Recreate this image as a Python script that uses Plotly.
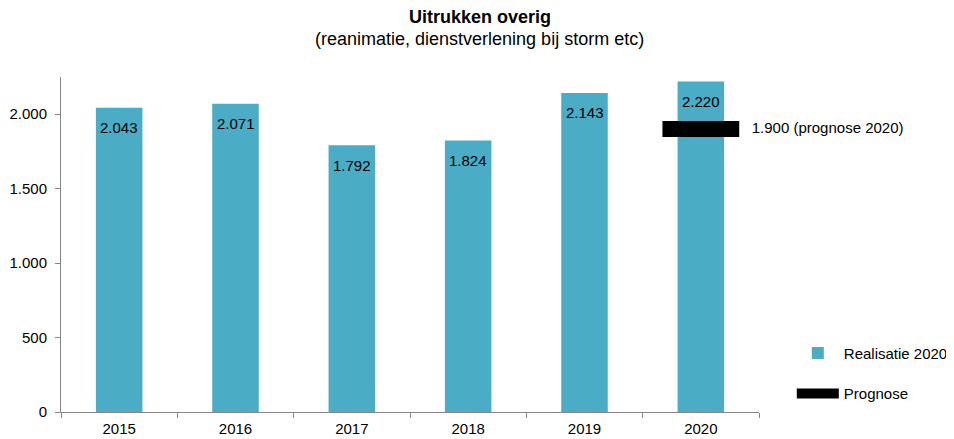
import plotly.graph_objects as go

years = ["2015", "2016", "2017", "2018", "2019", "2020"]
realisatie = [2043, 2071, 1792, 1824, 2143, 2220]
prognose_value = 1900
prognose_label = "1.900 (prognose 2020)"
title_main = "Uitrukken overig"
title_sub = "(reanimatie, dienstverlening bij storm etc)"

xpos = list(range(len(years)))
font = "Liberation Sans, Arial, sans-serif"
FS = 15


def fmt(v):
    return f"{v:,}".replace(",", ".")


fig = go.Figure()
fig.add_trace(go.Bar(
    x=xpos, y=realisatie, name="Realisatie 2020",
    marker=dict(color="#4BACC6", line=dict(width=0)),
    width=0.4,
    legendgroup="a",
))
px = xpos[-1]
fig.add_trace(go.Scatter(
    x=[px - 0.33, px + 0.33], y=[prognose_value, prognose_value],
    mode="lines+text", name="Prognose",
    line=dict(color="#000000", width=16),
    text=["", "   " + prognose_label], textposition="middle right",
    textfont=dict(family=font, size=FS, color="#000000"),
    legendgroup="b", cliponaxis=False,
))

PH = 335.0
annotations = [
    dict(text="<b>" + title_main + "</b>", xref="paper", yref="paper",
         x=0.600, y=1 + 60 / PH, xanchor="center", yanchor="middle",
         showarrow=False, font=dict(family=font, size=18, color="#000000")),
    dict(text=title_sub, xref="paper", yref="paper",
         x=0.600, y=1 + 38 / PH, xanchor="center", yanchor="middle",
         showarrow=False, font=dict(family=font, size=18, color="#000000")),
]
for xi, v in zip(xpos, realisatie):
    annotations.append(dict(
        text=fmt(v), x=xi, y=v, xref="x", yref="y",
        xanchor="center", yanchor="middle", yshift=-20, showarrow=False,
        font=dict(family=font, size=FS, color="#000000"),
    ))

fig.update_layout(
    width=954, height=439,
    margin=dict(l=53, r=203, t=69, b=35, autoexpand=False),
    paper_bgcolor="white", plot_bgcolor="white",
    separators=",.",
    font=dict(family=font, size=FS, color="#000000"),
    annotations=annotations,
    showlegend=True,
    legend=dict(
        x=1.047, y=0.225, xanchor="left", yanchor="top",
        font=dict(family=font, size=FS, color="#000000"),
        tracegroupgap=18, traceorder="grouped",
        bgcolor="rgba(0,0,0,0)", itemwidth=42,
    ),
    xaxis=dict(
        range=[-0.5, 5.5], tickvals=xpos, ticktext=years,
        showline=True, linecolor="#868686", linewidth=1,
        ticks="", showgrid=False, zeroline=False, automargin=False,
        minor=dict(tick0=-0.5, dtick=1, ticks="outside", ticklen=5, tickcolor="#868686", showgrid=False),
        tickfont=dict(family=font, size=FS, color="#000000"),
        ticklabelstandoff=3,
        fixedrange=True,
    ),
    yaxis=dict(
        range=[0, 2250], tickvals=[0, 500, 1000, 1500, 2000], tickformat=",d",
        showline=True, linecolor="#868686", linewidth=1,
        ticks="outside", ticklen=5, tickcolor="#868686",
        showgrid=False, zeroline=False, automargin=False,
        tickfont=dict(family=font, size=FS, color="#000000"),
        ticklabelstandoff=5,
        fixedrange=True,
    ),
)

fig.write_html("out.html")
